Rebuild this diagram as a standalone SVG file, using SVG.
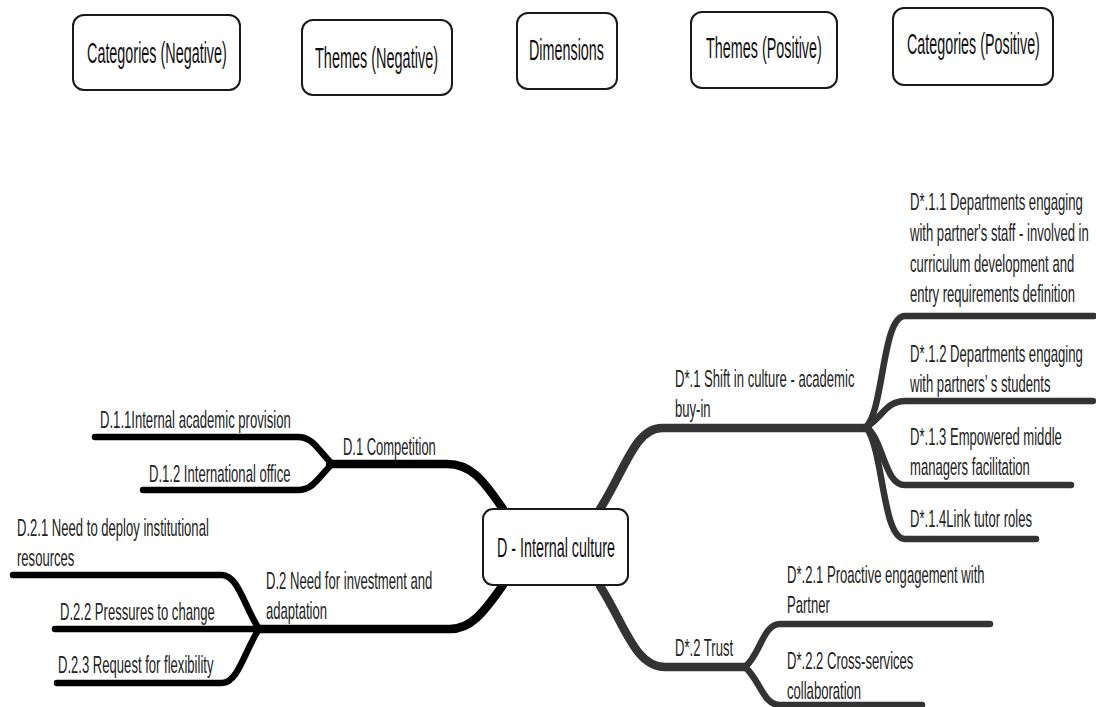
<svg xmlns="http://www.w3.org/2000/svg" width="1096" height="707" viewBox="0 0 1096 707">
  <style>
    .box { fill: #ffffff; stroke: #1a1a1a; stroke-width: 2; }
    .hdr { font-family: "Liberation Sans", Arial, sans-serif; font-size: 29px; fill: #111; }
    .lbl { font-family: "Liberation Sans", Arial, sans-serif; font-size: 24px; fill: #222; }
    .ctr { font-family: "Liberation Sans", Arial, sans-serif; font-size: 28px; fill: #111; }
    .neg { fill: none; stroke: #000; stroke-linecap: round; stroke-linejoin: round; }
    .pos { fill: none; stroke: #333; stroke-linecap: round; stroke-linejoin: round; }
    .main { stroke-width: 8.5; }
    .sub { stroke-width: 6.5; }
  </style>

  <!-- column headers (condensed lettering via horizontal scale) -->
  <g id="hdr-categories-negative">
    <rect class="box" x="73" y="15" width="167" height="75" rx="11"/>
    <text class="hdr" transform="translate(87 63) scale(0.496 1)">Categories (Negative)</text>
  </g>
  <g id="hdr-themes-negative">
    <rect class="box" x="302" y="20" width="150" height="75" rx="11"/>
    <text class="hdr" transform="translate(315 68) scale(0.499 1)">Themes (Negative)</text>
  </g>
  <g id="hdr-dimensions">
    <rect class="box" x="517" y="13" width="100" height="76" rx="11"/>
    <text class="hdr" transform="translate(529 60) scale(0.495 1)">Dimensions</text>
  </g>
  <g id="hdr-themes-positive">
    <rect class="box" x="691" y="12" width="146" height="76" rx="11"/>
    <text class="hdr" transform="translate(706 58) scale(0.496 1)">Themes (Positive)</text>
  </g>
  <g id="hdr-categories-positive">
    <rect class="box" x="893" y="8" width="160" height="77" rx="11"/>
    <text class="hdr" transform="translate(907 54) scale(0.494 1)">Categories (Positive)</text>
  </g>

  <!-- branch lines -->
  <g id="connectors">
    <!-- negative side -->
    <path class="neg main" d="M503 509 C482 478 470 464 447 464 L330 464"/>
    <path class="neg sub" d="M332 464 C318 450 313 437 298 437 L95 437"/>
    <path class="neg sub" d="M332 464 C318 478 313 490 298 490 L143 490"/>
    <path class="neg main" d="M503 585 C482 615 470 629 450 629 L257 629"/>
    <path class="neg sub" d="M259 629 C245 608 238 575 222 575 L13 575"/>
    <path class="neg sub" d="M259 629 L55 629"/>
    <path class="neg sub" d="M259 629 C245 650 238 683 222 683 L57 683"/>
    <!-- positive side -->
    <path class="pos main" d="M600 509 C625 470 635 428 662 428 L868 428"/>
    <path class="pos sub" d="M866 427 C884 410 882 316 905 316 L1094 316"/>
    <path class="pos sub" d="M866 427 C882 418 886 401 905 401 L1093 401"/>
    <path class="pos sub" d="M866 427 C884 440 884 485 905 485 L1071 485"/>
    <path class="pos sub" d="M866 427 C884 450 882 539 905 539 L1036 539"/>
    <path class="pos main" d="M600 586 C625 625 635 667 665 667 L745 667"/>
    <path class="pos sub" d="M745 667 C760 655 763 624 780 624 L990 624"/>
    <path class="pos sub" d="M745 667 C760 680 763 705 780 705 L922 705"/>
  </g>

  <!-- central node -->
  <g id="node-d">
    <rect class="box" x="483" y="509" width="145" height="76" rx="10"/>
    <text class="ctr" transform="translate(497 557) scale(0.512 1)">D - Internal culture</text>
  </g>

  <!-- negative themes and categories -->
  <g id="node-d1">
    <text class="lbl" transform="translate(343 455) scale(0.54 1)">D.1 Competition</text>
  </g>
  <g id="node-d11">
    <text class="lbl" transform="translate(100 428) scale(0.546 1)">D.1.1Internal academic provision</text>
  </g>
  <g id="node-d12">
    <text class="lbl" transform="translate(149 482) scale(0.545 1)">D.1.2 International office</text>
  </g>
  <g id="node-d2">
    <text class="lbl" transform="translate(266 589) scale(0.545 1)">D.2 Need for investment and</text>
    <text class="lbl" transform="translate(266 619) scale(0.545 1)">adaptation</text>
  </g>
  <g id="node-d21">
    <text class="lbl" transform="translate(17 536) scale(0.545 1)">D.2.1 Need to deploy institutional</text>
    <text class="lbl" transform="translate(17 566) scale(0.545 1)">resources</text>
  </g>
  <g id="node-d22">
    <text class="lbl" transform="translate(60 620) scale(0.545 1)">D.2.2 Pressures to change</text>
  </g>
  <g id="node-d23">
    <text class="lbl" transform="translate(58 673) scale(0.545 1)">D.2.3 Request for flexibility</text>
  </g>

  <!-- positive themes and categories -->
  <g id="node-ds1">
    <text class="lbl" transform="translate(675 387) scale(0.545 1)">D*.1 Shift in culture - academic</text>
    <text class="lbl" transform="translate(675 417) scale(0.545 1)">buy-in</text>
  </g>
  <g id="node-ds11">
    <text class="lbl" transform="translate(910 210) scale(0.547 1)">D*.1.1 Departments engaging</text>
    <text class="lbl" transform="translate(910 241) scale(0.545 1)">with partner's staff - involved in</text>
    <text class="lbl" transform="translate(910 272) scale(0.545 1)">curriculum development and</text>
    <text class="lbl" transform="translate(910 302) scale(0.545 1)">entry requirements definition</text>
  </g>
  <g id="node-ds12">
    <text class="lbl" transform="translate(910 362) scale(0.547 1)">D*.1.2 Departments engaging</text>
    <text class="lbl" transform="translate(910 392) scale(0.545 1)">with partners’ s students</text>
  </g>
  <g id="node-ds13">
    <text class="lbl" transform="translate(910 445) scale(0.545 1)">D*.1.3 Empowered middle</text>
    <text class="lbl" transform="translate(910 475) scale(0.545 1)">managers facilitation</text>
  </g>
  <g id="node-ds14">
    <text class="lbl" transform="translate(910 527) scale(0.545 1)">D*.1.4Link tutor roles</text>
  </g>
  <g id="node-ds2">
    <text class="lbl" transform="translate(675 656) scale(0.545 1)">D*.2 Trust</text>
  </g>
  <g id="node-ds21">
    <text class="lbl" transform="translate(787 583) scale(0.545 1)">D*.2.1 Proactive engagement with</text>
    <text class="lbl" transform="translate(787 613) scale(0.545 1)">Partner</text>
  </g>
  <g id="node-ds22">
    <text class="lbl" transform="translate(787 669) scale(0.545 1)">D*.2.2 Cross-services</text>
    <text class="lbl" transform="translate(787 699) scale(0.545 1)">collaboration</text>
  </g>
</svg>
